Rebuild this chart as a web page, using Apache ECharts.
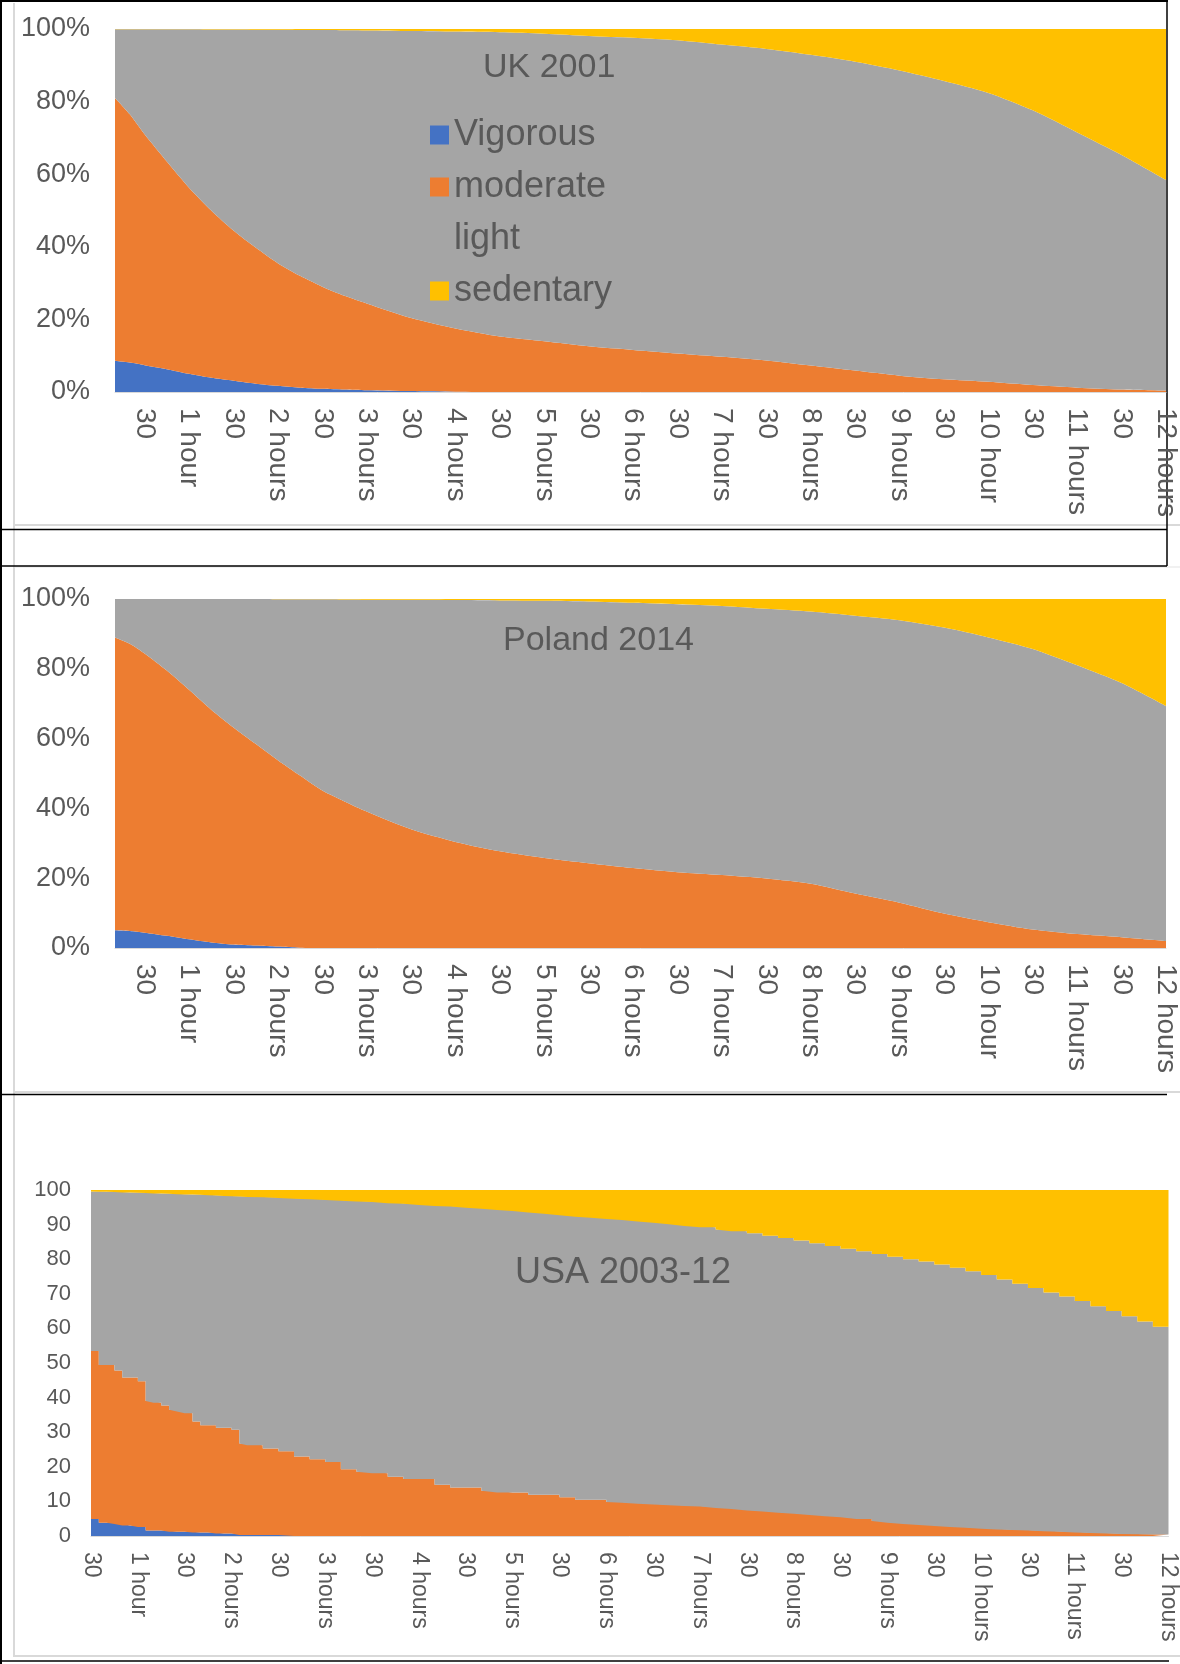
<!DOCTYPE html>
<html><head><meta charset="utf-8">
<script src="https://cdn.jsdelivr.net/npm/echarts@6.0.0/dist/echarts.min.js"></script>
<style>html,body{margin:0;padding:0;background:#fff}#c{width:1180px;height:1664px}</style>
</head><body><div id="c"></div>
<script>
// ---------- shared ----------
const seriesNames = ['Vigorous', 'moderate', 'light', 'sedentary'];
const seriesColors = ['#4472C4', '#ED7D31', '#A5A5A5', '#FFC000'];
const tickMinutes = [30,60,90,120,150,180,210,240,270,300,330,360,390,420,450,480,510,540,570,600,630,660,690,720];
const ukTickLabels = ['30','1 hour','30','2 hours','30','3 hours','30','4 hours','30','5 hours','30','6 hours','30','7 hours','30','8 hours','30','9 hours','30','10 hour','30','11 hours','30','12 hours'];
const plTickLabels = ['30','1 hour','30','2 hours','30','3 hours','30','4 hours','30','5 hours','30','6 hours','30','7 hours','30','8 hours','30','9 hours','30','10 hour','30','11 hours','30','12 hours'];
const usaTickLabels = ['30','1 hour','30','2 hours','30','3 hours','30','4 hours','30','5 hours','30','6 hours','30','7 hours','30','8 hours','30','9 hours','30','10 hours','30','11 hours','30','12 hours'];
const pctTicks = ['0%','20%','40%','60%','80%','100%'];

// ---------- UK 2001 (% of people, minutes of time) ----------
const ukMinutes = [10,20,30,45,60,75,90,105,120,135,150,165,180,210,240,270,300,330,360,390,420,450,480,510,540,570,600,630,660,690,720];
const ukVigorous = [8.6,8.1,7.4,6.3,5.0,3.9,3.1,2.3,1.7,1.2,0.9,0.7,0.5,0.25,0.1,0,0,0,0,0,0,0,0,0,0,0,0,0,0,0,0];
const ukModerate = [72.4,68.4,63.6,57.2,51.3,46.1,41.4,37.5,33.8,30.8,28.1,25.8,23.9,20.15,17.4,15.3,14.0,12.6,11.6,10.6,9.7,8.7,7.3,5.9,4.5,3.5,2.8,1.9,1.2,0.7,0.4];
const ukLight = [18.9,23.4,28.9,36.4,43.6,49.85,55.35,60.0,64.3,67.75,70.7,73.15,75.2,79.05,81.8,83.8,84.7,85.5,86.0,86.3,86.0,85.8,85.6,85.1,84.1,82.2,79.6,75.7,70.3,64.6,58.0];
const ukSedentary = [0.1,0.1,0.1,0.1,0.1,0.15,0.15,0.2,0.2,0.25,0.3,0.35,0.4,0.55,0.7,0.9,1.3,1.9,2.4,3.1,4.3,5.5,7.1,9.0,11.4,14.3,17.6,22.4,28.5,34.7,41.6];

// ---------- Poland 2014 ----------
const plMinutes = [10,20,30,45,60,75,90,105,120,135,150,165,180,210,240,270,300,330,360,390,420,450,480,510,540,570,600,630,660,690,720];
const plVigorous = [5.1,4.9,4.4,3.5,2.5,1.6,1.0,0.7,0.4,0.1,0,0,0,0,0,0,0,0,0,0,0,0,0,0,0,0,0,0,0,0,0];
const plModerate = [83.9,82.3,80.0,76.0,71.5,66.7,62.2,57.8,53.4,49.3,45.1,42.0,39.1,34.0,30.4,27.7,25.8,24.3,22.9,21.7,20.9,19.9,18.4,15.6,13.0,9.9,7.4,5.3,4.0,3.1,2.0];
const plLight = [11.0,12.8,15.6,20.5,26.0,31.7,36.8,41.5,46.15,50.5,54.8,57.85,60.7,65.75,69.3,71.9,73.7,75.0,76.0,76.8,77.1,77.3,78.0,79.6,80.9,81.9,81.6,80.4,77.0,72.8,67.3];
const plSedentary = [0,0,0,0,0,0,0,0,0.05,0.1,0.1,0.15,0.2,0.25,0.3,0.4,0.5,0.7,1.1,1.5,2.0,2.8,3.6,4.8,6.1,8.2,11.0,14.3,19.0,24.1,30.7];

// ---------- USA 2003-12 ----------
const usaMinutes = [30,35,40,45,50,55,60,65,70,75,80,85,90,95,100,105,110,115,120,125,130,
  140,150,160,170,180,190,200,210,220,230,240,250,260,270,280,290,300,310,320,330,340,350,360,370,380,390,400,410,420,430,440,450,460,470,480,490,500,510,520,530,540,550,560,570,580,590,600,610,620,630,640,650,660,670,680,690,700,710,720];
const usaVigorous = [4.9,3.8,3.8,3.5,3.0,3.0,2.6,1.6,1.6,1.6,1.2,1.2,1.2,1.0,1.0,1.0,0.7,0.7,0.7,0.3,0.3,
  0.3,0.3,0,0,0,0,0,0,0,0,0,0,0,0,0,0,0,0,0,0,0,0,0,0,0,0,0,0,0,0,0,0,0,0,0,0,0,0,0,0,0,0,0,0,0,0,0,0,0,0,0,0,0,0,0,0,0,0,0];
const usaModerate = [48.6,45.6,45.6,44.3,42.8,42.8,42.1,37.4,36.9,36.1,35.3,34.8,34.3,32.1,31.0,31.0,30.6,30.6,30.0,26.4,25.9,
  25.0,24.2,23.0,22.2,21.4,19.3,18.6,18.1,17.1,16.5,16.5,14.8,14.0,14.0,13.1,12.6,12.6,11.9,11.9,11.2,10.5,10.5,9.8,9.6,9.3,9.1,8.9,8.7,8.5,8.1,7.8,7.4,7.1,6.7,6.4,6.1,5.7,5.4,4.9,4.3,3.8,3.5,3.2,2.9,2.6,2.4,2.1,1.9,1.7,1.6,1.4,1.2,1.0,0.9,0.7,0.6,0.5,0.4,0.4];
const usaLight = [46.1,50.1,50.1,51.6,53.5,53.5,54.5,60.1,60.5,61.3,62.4,62.8,63.2,65.6,66.6,66.5,67.1,67.0,67.5,71.4,71.8,
  72.6,73.2,74.5,75.1,75.7,77.6,78.1,78.4,79.1,79.5,79.2,80.6,81.2,80.9,81.5,81.6,81.3,81.6,81.2,81.5,81.8,81.5,81.8,81.7,81.6,81.4,81.2,80.9,80.7,80.5,80.3,80.1,79.7,79.4,79.0,78.5,78.1,77.6,77.4,77.2,76.9,76.5,76.1,75.6,74.9,74.1,73.3,72.2,71.2,70.1,69.0,68.0,66.9,65.5,64.3,62.9,61.5,60.1,59.1];
const usaSedentary = [0.4,0.5,0.5,0.6,0.7,0.7,0.8,0.9,1.0,1.0,1.1,1.2,1.3,1.3,1.4,1.5,1.6,1.7,1.8,1.9,2.0,
  2.1,2.3,2.5,2.7,2.9,3.1,3.3,3.5,3.8,4.0,4.3,4.6,4.8,5.1,5.4,5.8,6.1,6.5,6.9,7.3,7.7,8.0,8.4,8.7,9.1,9.5,9.9,10.4,10.8,11.4,11.9,12.5,13.2,13.9,14.6,15.4,16.2,17.0,17.7,18.5,19.3,20.0,20.7,21.5,22.5,23.5,24.6,25.9,27.1,28.3,29.6,30.8,32.1,33.6,35.0,36.5,38.0,39.5,40.5];

// ---------- build ----------
const FONT = 'Liberation Sans, Arial, Helvetica, sans-serif';
const TXT = '#595959';

function makeSeries(idx, minutes, arrays, step) {
  return arrays.map((arr, k) => ({
    name: seriesNames[k],
    type: 'line',
    xAxisIndex: idx, yAxisIndex: idx,
    stack: 'stack' + idx,
    // share first, minute second: the share column is the one that gets stacked
    dimensions: ['share', 'minute'],
    encode: { x: 'minute', y: 'share' },
    data: minutes.map((m, i) => [arr[i], m]),
    showSymbol: false, symbol: 'none',
    smooth: step ? false : 0.25,
    step: step ? 'end' : false,
    lineStyle: { width: 0 },
    itemStyle: { color: seriesColors[k] },
    areaStyle: { color: seriesColors[k], opacity: 1 },
    silent: true
  }));
}

function xAxisFor(idx, min, labels, fontSize) {
  return {
    type: 'value', gridIndex: idx, min: min, max: 720,
    axisLine: { show: true, lineStyle: { color: '#D9D9D9', width: 1 } },
    axisTick: { show: false },
    splitLine: { show: false },
    axisLabel: {
      customValues: tickMinutes,
      rotate: -90, margin: 16,
      fontSize: fontSize, color: TXT, fontFamily: FONT,
      formatter: v => labels[Math.round(v / 30) - 1]
    }
  };
}

const option = {
  animation: false,
  backgroundColor: '#ffffff',
  textStyle: { fontFamily: FONT },
  title: [
    { text: 'UK 2001', left: 483, top: 51, padding: 0, textStyle: { fontSize: 34, color: TXT, fontWeight: 'normal', fontFamily: FONT } },
    { text: 'Poland 2014', left: 503, top: 624, padding: 0, textStyle: { fontSize: 34, color: TXT, fontWeight: 'normal', fontFamily: FONT } },
    { text: 'USA 2003-12', left: 515, top: 1255, padding: 0, textStyle: { fontSize: 36, color: TXT, fontWeight: 'normal', fontFamily: FONT } }
  ],
  legend: {
    data: seriesNames, orient: 'vertical', left: 430, top: 117, padding: 0,
    icon: 'rect', itemWidth: 19, itemHeight: 19, itemGap: 16,
    textStyle: { fontSize: 36, color: TXT, fontFamily: FONT },
    selectedMode: false
  },
  grid: [
    { left: 115, top: 29, width: 1052, height: 363 },
    { left: 115, top: 599, width: 1052, height: 349 },
    { left: 91, top: 1190, width: 1082, height: 346 }
  ],
  xAxis: [
    xAxisFor(0, 10, ukTickLabels, 28),
    xAxisFor(1, 10, plTickLabels, 28),
    xAxisFor(2, 30, usaTickLabels, 23)
  ],
  yAxis: [0, 1, 2].map(i => ({
    type: 'value', gridIndex: i, min: 0, max: 100, interval: i === 2 ? 10 : 20,
    axisLine: { show: false }, axisTick: { show: false }, splitLine: { show: false },
    axisLabel: {
      fontSize: i === 2 ? 22 : 27, color: TXT, fontFamily: FONT, margin: i === 2 ? 20 : 25,
      formatter: v => i === 2 ? String(v) : pctTicks[v / 20]
    }
  })),
  series: [].concat(
    makeSeries(0, ukMinutes, [ukVigorous, ukModerate, ukLight, ukSedentary], false),
    makeSeries(1, plMinutes, [plVigorous, plModerate, plLight, plSedentary], false),
    makeSeries(2, usaMinutes, [usaVigorous, usaModerate, usaLight, usaSedentary], true)
  ),
  graphic: [
    { type: 'line', shape: { x1: 14, y1: 3, x2: 14, y2: 1657 }, style: { stroke: '#D9D9D9', lineWidth: 2 }, silent: true },
    { type: 'line', shape: { x1: 14, y1: 525, x2: 1180, y2: 525 }, style: { stroke: '#D9D9D9', lineWidth: 2 }, silent: true },
    { type: 'line', shape: { x1: 14, y1: 567, x2: 1180, y2: 567 }, style: { stroke: '#E3E3E3', lineWidth: 1 }, silent: true },
    { type: 'line', shape: { x1: 14, y1: 1092, x2: 1180, y2: 1092 }, style: { stroke: '#D9D9D9', lineWidth: 2 }, silent: true },
    { type: 'line', shape: { x1: 14, y1: 1656, x2: 1180, y2: 1656 }, style: { stroke: '#D9D9D9', lineWidth: 2 }, silent: true },
    { type: 'line', shape: { x1: 1, y1: 0, x2: 1, y2: 1664 }, style: { stroke: '#000', lineWidth: 2 }, silent: true },
    { type: 'line', shape: { x1: 0, y1: 1, x2: 1168, y2: 1 }, style: { stroke: '#000', lineWidth: 2 }, silent: true },
    { type: 'line', shape: { x1: 1167, y1: 0, x2: 1167, y2: 566 }, style: { stroke: '#000', lineWidth: 1.5 }, silent: true },
    { type: 'line', shape: { x1: 0, y1: 529.5, x2: 1167, y2: 529.5 }, style: { stroke: '#000', lineWidth: 1.5 }, silent: true },
    { type: 'line', shape: { x1: 0, y1: 566, x2: 1167, y2: 566 }, style: { stroke: '#000', lineWidth: 1.5 }, silent: true },
    { type: 'line', shape: { x1: 0, y1: 1094.5, x2: 1167, y2: 1094.5 }, style: { stroke: '#000', lineWidth: 1.5 }, silent: true },
    { type: 'line', shape: { x1: 0, y1: 1661, x2: 1169, y2: 1661 }, style: { stroke: '#000', lineWidth: 1.5 }, silent: true }
  ]
};

const chart = echarts.init(document.getElementById('c'), null, { renderer: 'canvas' });
chart.setOption(option);
</script>
</body></html>
